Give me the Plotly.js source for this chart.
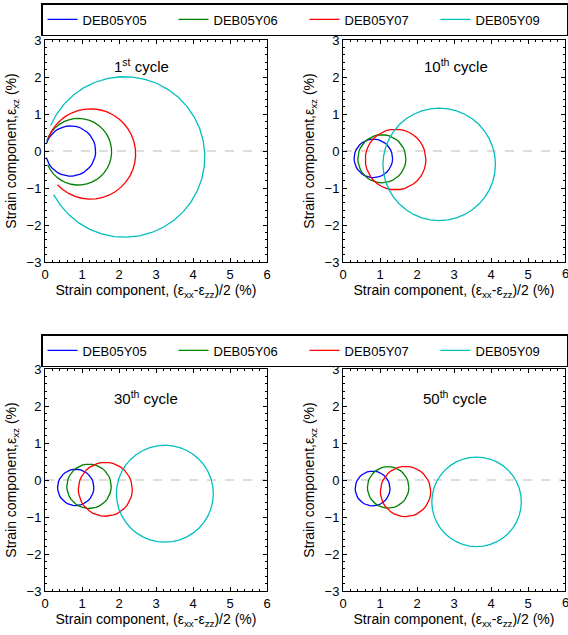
<!DOCTYPE html>
<html>
<head>
<meta charset="utf-8">
<script src="https://cdn.plot.ly/plotly-3.0.1.min.js"></script>
<style>html,body{margin:0;padding:0;background:#fff}#chart{width:568px;height:635px}</style>
</head>
<body>
<div id="chart"></div>
<script>
// Series (specimens) and colours
const seriesNames = ['DEB05Y05', 'DEB05Y06', 'DEB05Y07', 'DEB05Y09'];
const seriesColors = ['#0000ff', '#008000', '#ff0000', '#00bfbf'];

// Cycles shown in the four panels
const cycleLabels = ['1<sup>st</sup> cycle', '10<sup>th</sup> cycle', '30<sup>th</sup> cycle', '50<sup>th</sup> cycle'];

// Mohr circle centres (x: (exx-ezz)/2 %, y: exz %) and radii, per cycle, per series
const centerX1 = [0.69, 0.90, 1.23, 2.15];
const centerY1 = [0.00, -0.02, -0.08, -0.16];
const radius1  = [0.68, 0.90, 1.22, 2.17];
// 1st cycle curves are open arcs (start / end angle, degrees)
const arcStart1 = [-165, -157, -137, -152];
const arcEnd1   = [164, 161, 159, 157];

const centerX10 = [0.82, 1.05, 1.42, 2.60];
const centerY10 = [-0.20, -0.21, -0.23, -0.36];
const radius10  = [0.52, 0.65, 0.82, 1.52];

const centerX30 = [0.83, 1.19, 1.63, 3.24];
const centerY30 = [-0.20, -0.17, -0.25, -0.37];
const radius30  = [0.49, 0.60, 0.73, 1.31];

const centerX50 = [0.80, 1.22, 1.69, 3.61];
const centerY50 = [-0.23, -0.20, -0.31, -0.59];
const radius50  = [0.47, 0.56, 0.68, 1.21];

const xTicks = [0, 1, 2, 3, 4, 5, 6];
const yTicks = [-3, -2, -1, 0, 1, 2, 3];

const panels = [
  {cx: centerX1,  cy: centerY1,  r: radius1,  a0: arcStart1, a1: arcEnd1},
  {cx: centerX10, cy: centerY10, r: radius10},
  {cx: centerX30, cy: centerY30, r: radius30},
  {cx: centerX50, cy: centerY50, r: radius50}
];

function circlePoints(cx, cy, r, a0, a1) {
  const n = 40;
  const xs = [], ys = [];
  const steps = Math.max(8, Math.round(n * (a1 - a0) / 360));
  for (let i = 0; i <= steps; i++) {
    const t = (a0 + (a1 - a0) * i / steps) * Math.PI / 180;
    xs.push(cx + r * Math.cos(t));
    ys.push(cy + r * Math.sin(t));
  }
  return {xs, ys};
}

const traces = [];
panels.forEach((p, pi) => {
  const ax = pi === 0 ? '' : String(pi + 1);
  seriesNames.forEach((name, si) => {
    const a0 = p.a0 ? p.a0[si] : 0;
    const a1 = p.a1 ? p.a1[si] : 360;
    const pts = circlePoints(p.cx[si], p.cy[si], p.r[si], a0, a1);
    traces.push({
      x: pts.xs, y: pts.ys, type: 'scatter', mode: 'lines',
      name: name,
      line: {color: seriesColors[si], width: 1.3},
      xaxis: 'x' + ax, yaxis: 'y' + ax,
      showlegend: pi === 0 || pi === 2,
      legend: pi >= 2 ? 'legend2' : 'legend',
      hoverinfo: 'skip'
    });
  });
});

const W = 568, H = 635;
const colX = [[45, 267], [343, 565]];
const rowY = [[40, 262], [369, 591]];
function dx(px) { return [px[0] / W, px[1] / W]; }
function dy(py) { return [1 - py[1] / H, 1 - py[0] / H]; }

const font = {family: 'Liberation Sans, Arial, sans-serif', color: '#000'};

// right-hand panels: the last tick label sits on the page edge and is drawn as an annotation below
function xAxis(domain, anchor, vals) {
  return {
    domain: domain, anchor: anchor, range: [0, 6], tickvals: vals,
    ticks: 'inside', ticklen: 4, tickcolor: '#000', showline: true, linecolor: '#000', linewidth: 1,
    mirror: 'ticks', showgrid: false, zeroline: false, fixedrange: true,
    ticklabeloverflow: 'allow',
    tickfont: {family: font.family, size: 13, color: '#000'},
    minor: {dtick: 0.2, ticks: 'inside', ticklen: 2, tickcolor: '#000', showgrid: false},
    title: {text: 'Strain component, (ε<sub>xx</sub>-ε<sub>zz</sub>)/2 (%)', font: {family: font.family, size: 14, color: '#000'}, standoff: 4}
  };
}
function yAxis(domain, anchor) {
  return {
    domain: domain, anchor: anchor, range: [-3, 3], tickvals: yTicks,
    ticks: 'inside', ticklen: 4, tickcolor: '#000', showline: true, linecolor: '#000', linewidth: 1,
    mirror: 'ticks', showgrid: false, zeroline: false, fixedrange: true,
    ticklabeloverflow: 'allow',
    tickfont: {family: font.family, size: 13, color: '#000'},
    minor: {dtick: 0.2, ticks: 'inside', ticklen: 2, tickcolor: '#000', showgrid: false},
    title: {text: 'Strain component,ε<sub>xz</sub> (%)', font: {family: font.family, size: 14, color: '#000'}, standoff: 6}
  };
}

function legendBox(yTopPx) {
  return {
    orientation: 'h', x: 45 / W, y: 1 - yTopPx / H, xanchor: 'left', yanchor: 'top',
    bordercolor: '#000', borderwidth: 1.5, bgcolor: '#fff',
    font: {family: font.family, size: 13, color: '#000'},
    entrywidth: 86, entrywidthmode: 'pixels', tracegroupgap: 0
  };
}

const xTicksRight = xTicks.slice(0, -1);

const layout = {
  width: W, height: H,
  margin: {l: 0, r: 0, t: 0, b: 0},
  paper_bgcolor: '#fff', plot_bgcolor: '#fff',
  font: font,
  xaxis:  xAxis(dx(colX[0]), 'y', xTicks),       yaxis:  yAxis(dy(rowY[0]), 'x'),
  xaxis2: xAxis(dx(colX[1]), 'y2', xTicksRight), yaxis2: yAxis(dy(rowY[0]), 'x2'),
  xaxis3: xAxis(dx(colX[0]), 'y3', xTicks),      yaxis3: yAxis(dy(rowY[1]), 'x3'),
  xaxis4: xAxis(dx(colX[1]), 'y4', xTicksRight), yaxis4: yAxis(dy(rowY[1]), 'x4'),
  legend: legendBox(3),
  legend2: legendBox(334),
  shapes: [],
  annotations: []
};

const cycleTextX = [2.62, 3.05, 2.73, 3.03];
const cycleTextY = [2.32, 2.32, 2.24, 2.24];
panels.forEach((p, pi) => {
  const ax = pi === 0 ? '' : String(pi + 1);
  layout.shapes.push({
    type: 'line', xref: 'x' + ax + ' domain', yref: 'y' + ax,
    x0: 0, x1: 1, y0: 0, y1: 0,
    line: {color: '#d4d4cc', width: 1.5, dash: 'dash'}, layer: 'below'
  });
  layout.annotations.push({
    text: cycleLabels[pi], xref: 'x' + ax, yref: 'y' + ax,
    x: cycleTextX[pi], y: cycleTextY[pi], showarrow: false,
    font: {family: font.family, size: 15, color: '#000'}
  });
});

['2', '4'].forEach(ax => {
  layout.annotations.push({
    text: String(xTicks[xTicks.length - 1]), xref: 'x' + ax, yref: 'y' + ax + ' domain',
    x: xTicks[xTicks.length - 1], y: 0, yanchor: 'top', yshift: -2, showarrow: false,
    font: {family: font.family, size: 13, color: '#000'}
  });
});

Plotly.newPlot('chart', traces, layout, {staticPlot: true, displayModeBar: false});
</script>
</body>
</html>
